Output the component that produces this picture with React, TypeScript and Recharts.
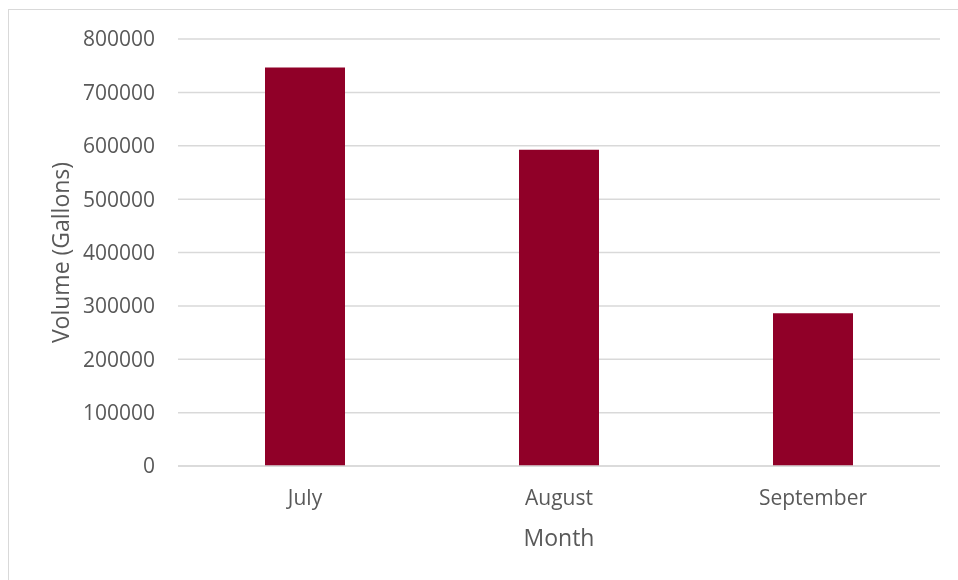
import { BarChart, Bar, XAxis, YAxis, CartesianGrid } from 'recharts'

const months = ['July', 'August', 'September']
const volumes = [746500, 592300, 286000]
const yTicks = [0, 100000, 200000, 300000, 400000, 500000, 600000, 700000, 800000]

const data = months.map((month, i) => ({ month, volume: volumes[i] }))

const FONT = '"Open Sans", sans-serif'
const TEXT = '#595959'
const GRID = '#d9d9d9'

const YTitle = ({ viewBox }: any) => (
  <text
    x={viewBox.x + 52}
    y={viewBox.y + viewBox.height / 2}
    transform={`rotate(-90, ${viewBox.x + 52}, ${viewBox.y + viewBox.height / 2})`}
    textAnchor="middle"
    dominantBaseline="central"
    fill={TEXT}
    fontSize={23}
    fontFamily={FONT}
  >
    Volume (Gallons)
  </text>
)

const XTitle = ({ viewBox }: any) => (
  <text
    x={viewBox.x + viewBox.width / 2}
    y={viewBox.y + 71}
    textAnchor="middle"
    dominantBaseline="central"
    fill={TEXT}
    fontSize={23}
    fontFamily={FONT}
  >
    Month
  </text>
)

export default function App() {
  return (
    <div style={{ width: 942, height: 560, background: '#fff' }}>
      {/* chart frame, cut off at the right and bottom like the source */}
      <div
        style={{
          position: 'fixed',
          left: 8,
          top: 9,
          right: 0,
          bottom: 0,
          borderLeft: `1.5px solid ${GRID}`,
          borderTop: `1.5px solid ${GRID}`,
          pointerEvents: 'none',
        }}
      />
      <BarChart width={942} height={560} data={data} margin={{ top: 31, right: 10, bottom: 0, left: 0 }} barSize={80}>
        <CartesianGrid vertical={false} stroke={GRID} strokeWidth={1.5} />
        <XAxis
          dataKey="month"
          height={102}
          axisLine={{ stroke: GRID, strokeWidth: 1.5 }}
          tickLine={false}
          tickSize={6}
          tickMargin={18}
          tick={{ fill: TEXT, fontSize: 21, fontFamily: FONT }}
          label={<XTitle />}
        />
        <YAxis
          width={170}
          domain={[0, 800000]}
          ticks={yTicks}
          axisLine={false}
          tickLine={false}
          tickSize={6}
          tickMargin={17}
          tick={{ fill: TEXT, fontSize: 21, fontFamily: FONT }}
          label={<YTitle />}
        />
        <Bar dataKey="volume" fill="#900028" isAnimationActive={false} />
      </BarChart>
    </div>
  )
}
